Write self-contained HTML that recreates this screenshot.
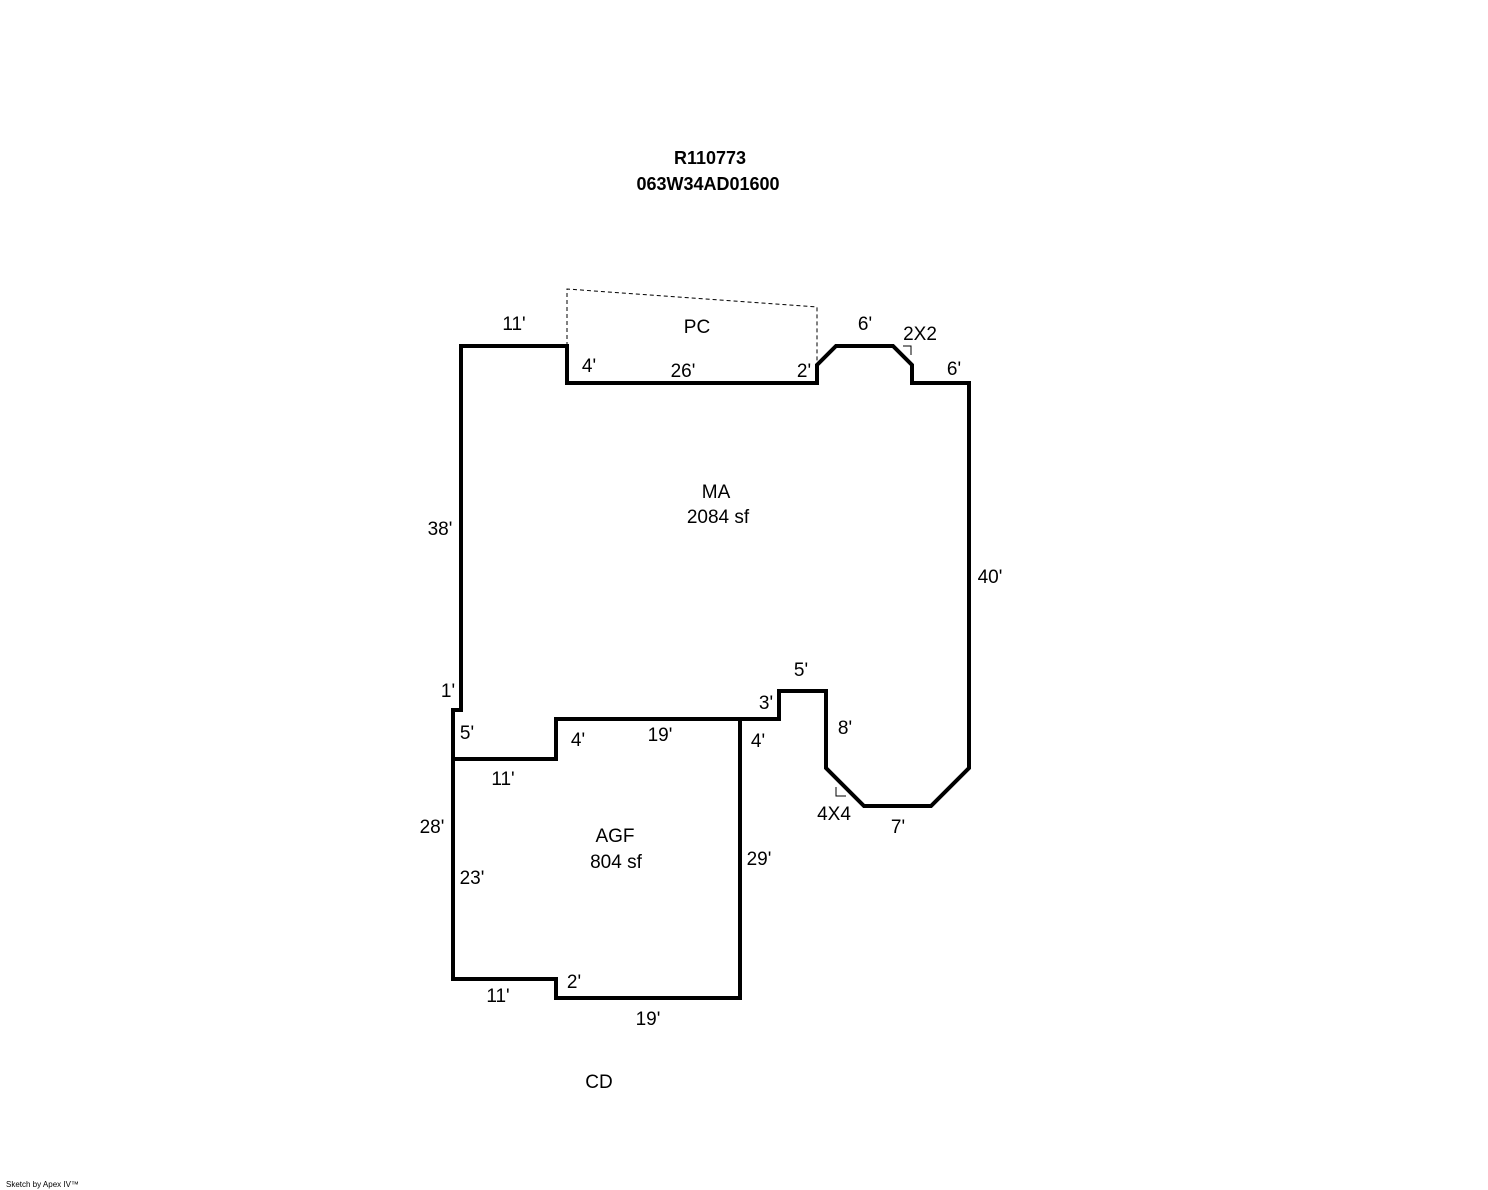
<!DOCTYPE html>
<html><head><meta charset="utf-8"><style>
html,body{margin:0;padding:0;background:#fff;}
svg{display:block;}
text{font-family:"Liberation Sans",Arial,sans-serif;font-size:19px;fill:#000;}
</style></head><body>
<svg width="1488" height="1190" viewBox="0 0 1488 1190" xmlns="http://www.w3.org/2000/svg">
<text x="710" y="164" text-anchor="middle" font-weight="bold" style="font-size:18px">R110773</text>
<text x="708" y="190" text-anchor="middle" font-weight="bold" style="font-size:18px">063W34AD01600</text>
<polyline points="567,346 567,289 817,307 817,365" fill="none" stroke="#000" stroke-width="1" stroke-dasharray="4,3"/>
<g fill="none" stroke="#000" stroke-width="4" stroke-linejoin="miter" stroke-linecap="square">
<polyline points="453,759 453,710 461,710 461,346 567,346 567,383 817,383 817,365 836,346 893,346 912,365 912,383 969,383 969,768 931,806 864,806 826,768 826,691 779,691 779,719 556,719 556,759 453,759 453,979 556,979 556,998 740,998 740,719"/>
</g>
<g fill="none" stroke="#000" stroke-width="1">
<polyline points="903,346 911,346 911,355"/>
<polyline points="836,787 836,796 846,796"/>
</g>
<text x="514" y="330" text-anchor="middle">11'</text>
<text x="697" y="333" text-anchor="middle">PC</text>
<text x="865" y="330" text-anchor="middle">6'</text>
<text x="920" y="340" text-anchor="middle">2X2</text>
<text x="589" y="372" text-anchor="middle">4'</text>
<text x="683" y="377" text-anchor="middle">26'</text>
<text x="804" y="377" text-anchor="middle">2'</text>
<text x="954" y="375" text-anchor="middle">6'</text>
<text x="716" y="498" text-anchor="middle">MA</text>
<text x="718" y="523" text-anchor="middle">2084 sf</text>
<text x="440" y="535" text-anchor="middle">38'</text>
<text x="990" y="583" text-anchor="middle">40'</text>
<text x="801" y="676" text-anchor="middle">5'</text>
<text x="448" y="697" text-anchor="middle">1'</text>
<text x="766" y="709" text-anchor="middle">3'</text>
<text x="467" y="739" text-anchor="middle">5'</text>
<text x="578" y="746" text-anchor="middle">4'</text>
<text x="660" y="741" text-anchor="middle">19'</text>
<text x="758" y="747" text-anchor="middle">4'</text>
<text x="845" y="734" text-anchor="middle">8'</text>
<text x="503" y="785" text-anchor="middle">11'</text>
<text x="834" y="820" text-anchor="middle">4X4</text>
<text x="898" y="833" text-anchor="middle">7'</text>
<text x="432" y="833" text-anchor="middle">28'</text>
<text x="615" y="842" text-anchor="middle">AGF</text>
<text x="616" y="868" text-anchor="middle">804 sf</text>
<text x="759" y="865" text-anchor="middle">29'</text>
<text x="472" y="884" text-anchor="middle">23'</text>
<text x="574" y="988" text-anchor="middle">2'</text>
<text x="498" y="1002" text-anchor="middle">11'</text>
<text x="648" y="1025" text-anchor="middle">19'</text>
<text x="599" y="1088" text-anchor="middle">CD</text>
<text x="6" y="1187" style="font-size:8px">Sketch by Apex IV™</text>
</svg>
</body></html>
